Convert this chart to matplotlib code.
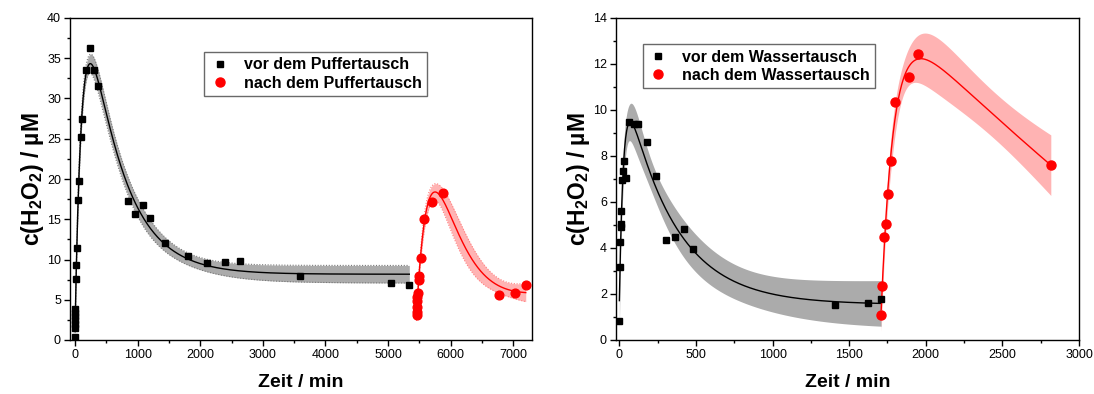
import numpy as np
import matplotlib
matplotlib.use("Agg")
import matplotlib.pyplot as plt
from matplotlib.lines import Line2D
from matplotlib.ticker import MultipleLocator

plt.rcParams['font.family'] = ['Liberation Sans', 'DejaVu Sans']
plt.rcParams['mathtext.fontset'] = 'custom'
plt.rcParams['mathtext.rm'] = 'Liberation Sans'
plt.rcParams['mathtext.bf'] = 'Liberation Sans:bold'
plt.rcParams['mathtext.it'] = 'Liberation Sans:italic'

# ---- measured H2O2 concentrations (time in min, c in µM) ----
puffer_vor_t = [0, 2, 3, 4, 5, 6, 7, 11, 16, 32, 48, 64, 91, 117, 171, 240, 309, 367,
                841, 964, 1081, 1198, 1443, 1800, 2103, 2396, 2641, 3594, 5043, 5340]
puffer_vor_c = [0.4, 1.5, 2.0, 2.5, 3.0, 3.4, 3.8, 7.6, 9.3, 11.4, 17.4, 19.8, 25.2, 27.4,
                33.6, 36.3, 33.6, 31.6, 17.3, 15.6, 16.8, 15.1, 12.0, 10.4, 9.6, 9.7, 9.8,
                7.95, 7.1, 6.8]
puffer_nach_t = [5455, 5460, 5463, 5466, 5470, 5472, 5490, 5495, 5522, 5575, 5703, 5879,
                 6779, 7023, 7200]
puffer_nach_c = [3.1, 3.5, 4.1, 4.8, 5.4, 5.8, 7.45, 8.0, 10.2, 15.0, 17.1, 18.3,
                 5.55, 5.9, 6.8]

wasser_vor_t = [0, 5, 7, 9, 11, 13, 15, 22, 33, 46, 63, 98, 124, 183, 241, 303, 361, 420,
                481, 1406, 1620, 1709]
wasser_vor_c = [0.84, 3.16, 4.25, 4.91, 5.04, 5.62, 6.96, 7.35, 7.8, 7.06, 9.46, 9.38,
                9.38, 8.6, 7.12, 4.33, 4.46, 4.84, 3.96, 1.52, 1.62, 1.8]
wasser_nach_t = [1709, 1714, 1729, 1740, 1755, 1770, 1800, 1890, 1949, 2816]
wasser_nach_c = [1.09, 2.35, 4.46, 5.03, 6.36, 7.78, 10.36, 11.42, 12.43, 7.6]

legend_puffer = ["vor dem Puffertausch", "nach dem Puffertausch"]
legend_wasser = ["vor dem Wassertausch", "nach dem Wassertausch"]


# ---- least-squares fit: rise/decay pulse with baseline, plus 95 % confidence band ----
# c(t) = y0 + (A * exp(-kd*tau) + C) * (1 - exp(-kr*tau)),  tau = t - t_start
def t_quantile(dof, z=1.959964):
    g1 = (z**3 + z) / 4
    g2 = (5 * z**5 + 16 * z**3 + 3 * z) / 96
    g3 = (3 * z**7 + 19 * z**5 + 17 * z**3 - 15 * z) / 384
    return z + g1 / dof + g2 / dof**2 + g3 / dof**3


def design(tau, kd, kr):
    rise = 1 - np.exp(-kr * tau)
    return np.stack([np.ones_like(rise), np.exp(-kd * tau) * rise, rise], axis=-1)


def fit_pulse(t, c, n_eval=500):
    t = np.asarray(t, float)
    y = np.asarray(c, float)
    t0 = t.min()
    tau = t - t0
    lkd = np.linspace(-5, -0.5, 90)
    lkr = np.linspace(-4, 1, 90)
    best = None
    for _ in range(4):
        KD, KR = np.meshgrid(10**lkd, 10**lkr, indexing='ij')
        kd = KD.ravel()[:, None]
        kr = KR.ravel()[:, None]
        X = design(tau[None, :], kd, kr)
        beta = np.einsum('gin,n->gi', np.linalg.pinv(X), y)
        ssr = ((y - np.einsum('gni,gi->gn', X, beta))**2).sum(1)
        i = int(np.nanargmin(ssr))
        best = (kd[i, 0], kr[i, 0], beta[i])
        sd = (lkd[1] - lkd[0]) * 4
        sr = (lkr[1] - lkr[0]) * 4
        lkd = np.linspace(np.log10(best[0]) - sd, np.log10(best[0]) + sd, 90)
        lkr = np.linspace(np.log10(best[1]) - sr, np.log10(best[1]) + sr, 90)
    kd, kr, (y0, a, cc) = best

    def jac(tt):
        e_d = np.exp(-kd * tt)
        e_r = np.exp(-kr * tt)
        rise = 1 - e_r
        return np.stack([np.ones_like(tt), e_d * rise, rise,
                         -a * tt * e_d * rise, (a * e_d + cc) * tt * e_r], axis=-1)

    def model(tt):
        return y0 + (a * np.exp(-kd * tt) + cc) * (1 - np.exp(-kr * tt))

    dof = len(y) - 5
    s2 = ((y - model(tau))**2).sum() / dof
    J = jac(tau)
    cov = s2 * np.linalg.pinv(J.T @ J)
    tt = np.linspace(0, tau.max(), n_eval)
    Jx = jac(tt)
    half = t_quantile(dof) * np.sqrt(np.einsum('ni,ij,nj->n', Jx, cov, Jx))
    yy = model(tt)
    return tt + t0, yy, yy - half, yy + half


fig = plt.figure(figsize=(10.94, 3.94), dpi=100)
ax1 = fig.add_axes([70 / 1094, 1 - 340 / 394, 462 / 1094, 322 / 394])
ax2 = fig.add_axes([616 / 1094, 1 - 340 / 394, 463 / 1094, 322 / 394])

GRAY_FILL = '#ababab'
RED_FILL = '#ffb3b3'


def draw_series(ax, t, c, color, fill, marker, ms, dotted_edge):
    xf, yf, lo, hi = fit_pulse(t, c)
    ax.fill_between(xf, lo, hi, color=fill, lw=0, zorder=1)
    if dotted_edge:
        edge = '#7a7a7a' if color == 'black' else '#ff8080'
        ax.plot(xf, lo, ls=(0, (1, 1.5)), color=edge, lw=0.8, zorder=2)
        ax.plot(xf, hi, ls=(0, (1, 1.5)), color=edge, lw=0.8, zorder=2)
    ax.plot(xf, yf, color=color, lw=1.0, zorder=3)
    ax.plot(t, c, ls='none', marker=marker, color=color, ms=ms, mec=color, zorder=4)


draw_series(ax1, puffer_vor_t, puffer_vor_c, 'black', GRAY_FILL, 's', 5.0, True)
draw_series(ax1, puffer_nach_t, puffer_nach_c, 'red', RED_FILL, 'o', 6.3, True)
draw_series(ax2, wasser_vor_t, wasser_vor_c, 'black', GRAY_FILL, 's', 5.0, False)
draw_series(ax2, wasser_nach_t, wasser_nach_c, 'red', RED_FILL, 'o', 6.5, False)

ax1.set_xlim(-80, 7300)
ax1.set_ylim(0, 40)
ax1.xaxis.set_major_locator(MultipleLocator(1000))
ax1.xaxis.set_minor_locator(MultipleLocator(500))
ax1.yaxis.set_major_locator(MultipleLocator(5))
ax1.yaxis.set_minor_locator(MultipleLocator(2.5))

ax2.set_xlim(-22, 3000)
ax2.set_ylim(0, 14)
ax2.xaxis.set_major_locator(MultipleLocator(500))
ax2.xaxis.set_minor_locator(MultipleLocator(250))
ax2.yaxis.set_major_locator(MultipleLocator(2))
ax2.yaxis.set_minor_locator(MultipleLocator(1))

for ax, labels in ((ax1, legend_puffer), (ax2, legend_wasser)):
    for sp in ax.spines.values():
        sp.set_linewidth(1.0)
    ax.tick_params(which='major', direction='out', length=4.5, width=1.0,
                   labelsize=9, pad=2)
    ax.tick_params(which='minor', direction='out', length=2.5, width=1.0)
    ax.tick_params(top=False, right=False, which='both')
    ax.set_xlabel('Zeit / min', fontsize=14, fontweight='bold', labelpad=9)
    ax.set_ylabel(r'c(H$_\mathbf{2}$O$_\mathbf{2}$) / µM', fontsize=16.5,
                  fontweight='bold', labelpad=1)
    handles = [Line2D([], [], ls='none', marker='s', color='black', ms=5.0),
               Line2D([], [], ls='none', marker='o', color='red', ms=6.5)]
    leg = ax.legend(handles, labels, prop={'weight': 'bold', 'size': 11.5},
                    loc='upper left', frameon=True, fancybox=False,
                    handlelength=1.2, handletextpad=0.9, labelspacing=0.2,
                    borderpad=0.35, borderaxespad=0,
                    bbox_to_anchor=(0.291, 0.895) if ax is ax1 else (0.058, 0.919))
    leg.get_frame().set_edgecolor('#444444')
    leg.get_frame().set_linewidth(1.0)

fig.savefig('out.png', dpi=100)
